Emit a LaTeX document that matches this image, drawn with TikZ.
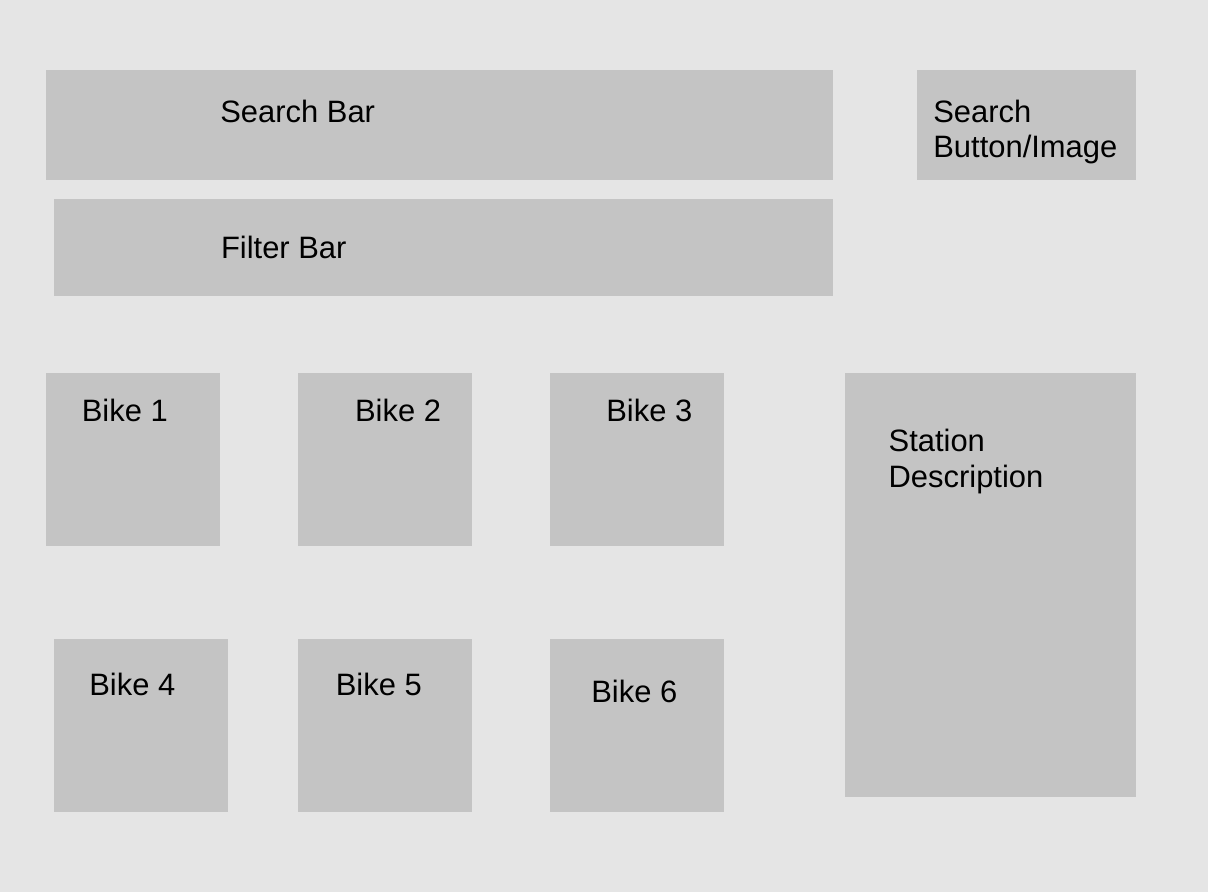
\documentclass[tikz,border=0pt]{standalone}
\usepackage{fontspec}
\setmainfont{Liberation Sans}
\definecolor{bggray}{HTML}{E5E5E5}
\definecolor{boxgray}{HTML}{C4C4C4}
\tikzset{
  wirebox/.style={fill=boxgray},
  wiretext/.style={anchor=base west, inner sep=0pt, align=left,
    font=\fontsize{17.6}{20.2}\selectfont}
}
\begin{document}
\begin{tikzpicture}[x=0.02cm, y=-0.02cm]
    % Background
    \fill[bggray] (0,0) rectangle (1208,892);
    \useasboundingbox (0,0) rectangle (1208,892);

    % Top bars
    \fill[wirebox] (46,70) rectangle (833,180);
    \fill[wirebox] (917,70) rectangle (1136,180);
    \fill[wirebox] (54,199) rectangle (833,296);
    \node[wiretext] (search) at (220,122.7) {Search Bar};
    \node[wiretext] (button) at (933,158) {Search\\Button/Image}; % base = last line
    \node[wiretext] (filter) at (220.7,258.3) {Filter Bar};

    % Bike tiles
    \foreach \x/\y in {46/373, 298/373, 550/373, 54/639, 298/639, 550/639}
        \fill[wirebox] (\x,\y) rectangle ++(174,173);
    \node[wiretext] (bike1) at (81.5,421.7) {Bike 1};
    \node[wiretext] (bike2) at (354.7,421.7) {Bike 2};
    \node[wiretext] (bike3) at (606,421.7) {Bike 3};
    \node[wiretext] (bike4) at (89,695.7) {Bike 4};
    \node[wiretext] (bike5) at (335.5,695) {Bike 5};
    \node[wiretext] (bike6) at (591,702.7) {Bike 6};

    % Station panel
    \fill[wirebox] (845,373) rectangle (1136,797);
    \node[wiretext] (station) at (888.3,487) {Station\\Description};
\end{tikzpicture}
\end{document}
